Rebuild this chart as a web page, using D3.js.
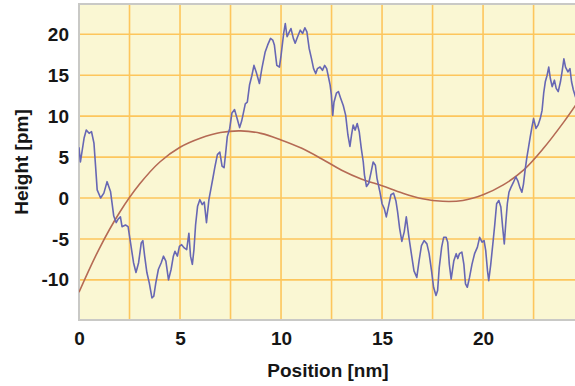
<!DOCTYPE html>
<html>
<head>
<meta charset="utf-8">
<script src="https://cdn.jsdelivr.net/npm/d3@7"></script>
<style>
  html, body { margin: 0; padding: 0; background: #ffffff; }
  svg { display: block; }
  text { font-family: "Liberation Sans", Arial, Helvetica, sans-serif; font-weight: bold; fill: #161616; }
</style>
</head>
<body>
<svg id="chart" width="575" height="386"></svg>
<script>
// Measured surface profile (position in nm, height in pm)
const profilePosition = [
  0.00, 0.07, 0.25, 0.36, 0.50, 0.62, 0.74, 0.82, 0.90, 1.07, 1.23, 1.39, 1.56, 1.72, 1.84, 1.93,
  2.05, 2.13, 2.30, 2.43, 2.54, 2.70, 2.82, 2.95, 3.08, 3.16, 3.25, 3.36, 3.48, 3.61, 3.70, 3.80,
  3.93, 4.07, 4.18, 4.30, 4.43, 4.56, 4.67, 4.75, 4.87, 4.97, 5.08, 5.21, 5.33, 5.44, 5.52, 5.61,
  5.69, 5.77, 5.87, 5.98, 6.10, 6.20, 6.31, 6.43, 6.52, 6.64, 6.72, 6.85, 6.97, 7.08, 7.18, 7.26,
  7.34, 7.46, 7.57, 7.70, 7.84, 7.95, 8.05, 8.13, 8.23, 8.33, 8.44, 8.56, 8.66, 8.77, 8.93, 9.05,
  9.21, 9.34, 9.48, 9.59, 9.67, 9.79, 9.92, 10.00, 10.13, 10.21, 10.30, 10.41, 10.49, 10.61, 10.70, 10.82,
  10.95, 11.07, 11.18, 11.28, 11.39, 11.51, 11.61, 11.72, 11.80, 11.93, 12.05, 12.16, 12.26, 12.33, 12.43, 12.49,
  12.56, 12.62, 12.74, 12.84, 12.95, 13.08, 13.20, 13.31, 13.41, 13.49, 13.57, 13.67, 13.77, 13.87, 13.97, 14.07,
  14.13, 14.23, 14.34, 14.46, 14.56, 14.67, 14.75, 14.89, 15.00, 15.11, 15.21, 15.33, 15.44, 15.57, 15.69, 15.77,
  15.87, 15.98, 16.10, 16.20, 16.33, 16.45, 16.58, 16.72, 16.83, 16.95, 17.08, 17.22, 17.33, 17.45, 17.55, 17.67,
  17.75, 17.83, 17.95, 18.05, 18.17, 18.25, 18.33, 18.42, 18.55, 18.67, 18.75, 18.83, 18.95, 19.05, 19.13, 19.22,
  19.33, 19.45, 19.58, 19.72, 19.83, 19.95, 20.05, 20.13, 20.22, 20.28, 20.38, 20.50, 20.58, 20.67, 20.78, 20.88,
  20.97, 21.05, 21.12, 21.20, 21.28, 21.38, 21.50, 21.62, 21.72, 21.82, 21.92, 22.00, 22.08, 22.17, 22.25, 22.33,
  22.42, 22.50, 22.62, 22.72, 22.83, 22.92, 23.00, 23.08, 23.17, 23.25, 23.33, 23.42, 23.53, 23.62, 23.72, 23.83,
  23.92, 24.00, 24.08, 24.20, 24.30, 24.38, 24.47, 24.58
];
const profileHeight = [
  6.2, 4.4, 7.3, 8.3, 7.9, 8.1, 6.7, 3.9, 1.0, 0.0, 0.6, 2.0, 0.8, -2.2, -3.0, -2.6,
  -2.3, -3.5, -3.3, -3.5, -5.3, -7.9, -9.1, -7.9, -5.5, -5.2, -7.1, -9.1, -10.4, -12.2, -12.0, -10.4,
  -8.7, -7.9, -7.1, -7.7, -10.0, -8.7, -7.1, -6.5, -7.1, -5.9, -5.7, -6.1, -6.3, -4.3, -7.1, -8.1,
  -6.3, -3.3, -1.0, -0.2, -0.8, -0.5, -3.0, -0.2, 1.0, 2.6, 3.7, 5.3, 5.6, 3.9, 3.7, 5.5,
  7.5, 8.5, 10.4, 10.8, 9.6, 8.6, 9.4, 10.3, 11.5, 11.7, 13.8, 15.0, 16.2, 15.4, 14.0, 15.8,
  17.8, 18.7, 19.5, 19.3, 18.7, 16.2, 16.0, 17.4, 20.1, 21.3, 19.7, 20.3, 20.7, 19.5, 18.9, 19.7,
  20.5, 20.1, 20.8, 20.3, 18.3, 17.0, 15.8, 15.2, 15.8, 16.0, 15.6, 16.2, 15.8, 15.0, 13.8, 12.6,
  10.1, 11.7, 12.8, 13.0, 12.2, 11.3, 10.1, 7.7, 6.3, 7.7, 8.9, 8.3, 9.1, 8.1, 6.1, 4.4,
  2.8, 1.4, 1.8, 3.2, 4.4, 4.0, 2.4, 0.8, -0.7, -1.3, -2.3, -0.9, 0.4, 0.6, -0.4, -1.7,
  -3.7, -5.3, -4.1, -2.3, -4.8, -6.8, -8.9, -9.7, -7.7, -5.8, -5.2, -5.6, -6.8, -8.9, -10.9, -11.9,
  -11.3, -8.5, -6.0, -4.8, -4.8, -5.4, -8.1, -9.9, -7.7, -6.8, -7.4, -6.8, -6.6, -8.1, -10.5, -10.9,
  -9.7, -8.1, -6.8, -6.0, -4.8, -5.4, -5.2, -6.4, -8.9, -10.1, -8.1, -5.2, -3.2, -0.7, -0.3, -1.1,
  -3.6, -5.6, -3.2, -0.7, 0.7, 1.3, 1.9, 2.6, 2.1, 1.3, 0.7, 1.7, 3.4, 5.0, 6.2, 7.4,
  8.7, 9.7, 8.5, 8.9, 9.7, 10.7, 12.8, 14.2, 15.0, 16.0, 14.6, 13.6, 14.4, 13.4, 13.0, 14.2,
  15.6, 17.0, 16.0, 15.4, 15.8, 14.2, 13.2, 12.3
];

// Smooth fitted curve through the profile
const fitPosition = [0, 1, 2, 3, 4, 5, 6, 7, 8, 9, 10, 11, 12, 13, 14, 15, 16, 17, 18, 19, 20, 21, 22, 23, 24, 24.6];
const fitHeight = [-11.5, -6.2, -1.8, 1.7, 4.4, 6.2, 7.3, 8.0, 8.2, 7.9, 7.1, 6.1, 4.8, 3.4, 2.3, 1.5,
  0.6, -0.1, -0.4, -0.3, 0.4, 1.6, 3.4, 6.1, 9.3, 11.4];

// Axis ticks and gridlines
const xTickValues = [0, 5, 10, 15, 20];
const xGridValues = [2.5, 5, 7.5, 10, 12.5, 15, 17.5, 20, 22.5];
const yTickValues = [-10, -5, 0, 5, 10, 15, 20];

const svg = d3.select("#chart");
const plotLeft = 79, plotRight = 575, plotTop = 4, plotBottom = 320;

const x = d3.scaleLinear().domain([0, 24.55]).range([plotLeft, plotRight]);
const y = d3.scaleLinear().domain([-14.9, 23.7]).range([plotBottom, plotTop]);

svg.append("defs").append("clipPath").attr("id", "plotClip")
  .append("rect").attr("x", plotLeft).attr("y", plotTop)
  .attr("width", plotRight - plotLeft + 2).attr("height", plotBottom - plotTop);

// Plot background
svg.append("rect")
  .attr("x", plotLeft).attr("y", plotTop)
  .attr("width", plotRight - plotLeft + 5).attr("height", plotBottom - plotTop)
  .attr("fill", "#faf7d3");

// Gridlines
const grid = svg.append("g").attr("stroke", "#fdc65c").attr("stroke-width", 1.6);
grid.selectAll("line.gx").data(xGridValues).join("line")
  .attr("class", "gx")
  .attr("x1", d => x(d)).attr("x2", d => x(d))
  .attr("y1", plotTop).attr("y2", plotBottom);
grid.selectAll("line.gy").data(yTickValues).join("line")
  .attr("class", "gy")
  .attr("x1", plotLeft).attr("x2", plotRight)
  .attr("y1", d => y(d)).attr("y2", d => y(d));

// Frame on top, left and bottom
svg.append("path")
  .attr("d", `M${plotRight + 5},${plotTop} H${plotLeft} V${plotBottom} H${plotRight + 5}`)
  .attr("fill", "none").attr("stroke", "#c9c9c6").attr("stroke-width", 2);

const plot = svg.append("g").attr("clip-path", "url(#plotClip)");

// Fitted curve
const fitData = fitPosition.map((p, i) => [p, fitHeight[i]]);
plot.append("path")
  .datum(fitData)
  .attr("fill", "none")
  .attr("stroke", "#b56a54")
  .attr("stroke-width", 1.6)
  .attr("d", d3.line().x(d => x(d[0])).y(d => y(d[1])).curve(d3.curveCatmullRom));

// Measured profile
const profileData = profilePosition.map((p, i) => [p, profileHeight[i]]);
plot.append("path")
  .datum(profileData)
  .attr("fill", "none")
  .attr("stroke", "#6767b4")
  .attr("stroke-width", 1.6)
  .attr("stroke-linejoin", "round")
  .attr("d", d3.line().x(d => x(d[0])).y(d => y(d[1])));

// Y axis labels
const yAxis = d3.axisLeft(y).tickValues(yTickValues).tickSize(0).tickPadding(10)
  .tickFormat(d => String(d));
const gy = svg.append("g").attr("transform", `translate(${plotLeft},0)`).call(yAxis);
gy.select(".domain").remove();
gy.selectAll("text")
  .attr("font-size", 19)
  .attr("font-family", "'Liberation Sans', Arial, sans-serif")
  .attr("font-weight", "bold")
  .attr("fill", "#161616");

// X axis labels
const xAxis = d3.axisBottom(x).tickValues(xTickValues).tickSize(0).tickPadding(12)
  .tickFormat(d => String(d));
const gx = svg.append("g").attr("transform", `translate(0,${plotBottom})`).call(xAxis);
gx.select(".domain").remove();
gx.selectAll("text")
  .attr("font-size", 19)
  .attr("font-family", "'Liberation Sans', Arial, sans-serif")
  .attr("font-weight", "bold")
  .attr("fill", "#161616");

// Axis titles
svg.append("text")
  .attr("x", 328).attr("y", 377)
  .attr("text-anchor", "middle")
  .attr("font-size", 19)
  .text("Position [nm]");

svg.append("text")
  .attr("transform", "translate(28,162) rotate(-90)")
  .attr("text-anchor", "middle")
  .attr("font-size", 19)
  .text("Height [pm]");
</script>
</body>
</html>
